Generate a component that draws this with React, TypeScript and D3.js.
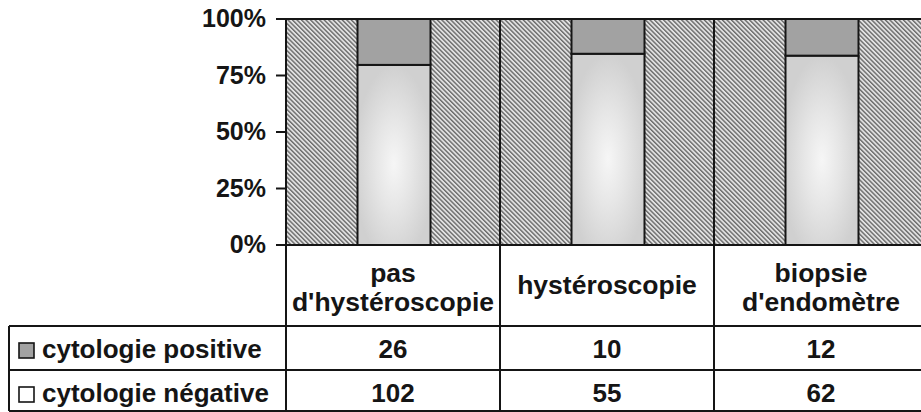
import React, { useEffect, useRef } from 'react';
import * as d3 from 'd3';

const categories = ['pas d\'hystéroscopie', 'hystéroscopie', 'biopsie d\'endomètre'];
const headerLines = [['pas', 'd\'hystéroscopie'], ['hystéroscopie'], ['biopsie', 'd\'endomètre']];
const positive = [26, 10, 12];
const negative = [102, 55, 62];
const seriesNames = ['cytologie positive', 'cytologie négative'];
const yTicks = [0, 0.25, 0.5, 0.75, 1];

const width = 921;
const height = 412;

export default function App() {
  const svgRef = useRef<SVGSVGElement>(null);

  useEffect(() => {
    if (!svgRef.current) return;
    const root = d3.select(svgRef.current);
    root.selectAll('*').remove();

    const left = 286;
    const top = 19;
    const bottom = 245;
    const bandW = 214;
    const tableLeft = 9;
    const rowY = [bottom, 326, 370, 411];
    const ink = '#151515';
    const font = '"Liberation Sans", Arial, sans-serif';

    // Defs: hatch pattern + gradients
    const defs = root.append('defs');
    const hatch = defs.append('pattern')
      .attr('id', 'hatch')
      .attr('patternUnits', 'userSpaceOnUse')
      .attr('width', 3.2)
      .attr('height', 10)
      .attr('patternTransform', 'rotate(-45)');
    hatch.append('rect').attr('width', 3.2).attr('height', 10).attr('fill', '#e2e2e2');
    hatch.append('rect').attr('width', 1.4).attr('height', 10).attr('fill', '#6a6a6a');

    const glow = defs.append('radialGradient')
      .attr('id', 'glow')
      .attr('cx', 0.5).attr('cy', 0.55).attr('r', 0.55);
    glow.append('stop').attr('offset', '0%').attr('stop-color', '#f6f6f6');
    glow.append('stop').attr('offset', '45%').attr('stop-color', '#e6e6e6');
    glow.append('stop').attr('offset', '100%').attr('stop-color', '#d0d0d0');

    const x = d3.scaleBand<string>()
      .domain(categories)
      .range([left, left + bandW * categories.length])
      .paddingInner(0);

    const y = d3.scaleLinear().domain([0, 1]).range([bottom, top]);

    const table = categories.map((c, i) => ({ cat: c, pos: positive[i], neg: negative[i] }));
    const stacked = d3.stack<any>()
      .keys(['neg', 'pos'])
      .offset(d3.stackOffsetExpand)(table);

    // Plot background (hatched)
    root.append('rect')
      .attr('x', left)
      .attr('y', top)
      .attr('width', width - left + 20)
      .attr('height', bottom - top)
      .attr('fill', 'url(#hatch)');

    // Bars
    const barW = 73;
    const fills: Record<string, string> = { neg: 'url(#glow)', pos: '#a2a2a2' };
    stacked.forEach(layer => {
      root.append('g')
        .selectAll('rect')
        .data(layer)
        .enter()
        .append('rect')
        .attr('x', (d: any) => (x(d.data.cat) as number) + x.bandwidth() / 2 - barW / 2 + 1)
        .attr('y', d => y(d[1]))
        .attr('width', barW)
        .attr('height', d => y(d[0]) - y(d[1]))
        .attr('fill', fills[layer.key])
        .attr('stroke', ink)
        .attr('stroke-width', 2);
    });

    // Plot frame: top line, dividers
    root.append('line')
      .attr('x1', left).attr('x2', width)
      .attr('y1', top).attr('y2', top)
      .attr('stroke', ink).attr('stroke-width', 2);
    categories.forEach(c => {
      const xx = x(c) as number;
      root.append('line')
        .attr('x1', xx).attr('x2', xx)
        .attr('y1', top).attr('y2', rowY[3])
        .attr('stroke', ink).attr('stroke-width', 2);
    });

    // Y axis ticks + labels
    const yAxis = root.append('g');
    yTicks.forEach(t => {
      yAxis.append('line')
        .attr('x1', left - 10).attr('x2', left)
        .attr('y1', y(t)).attr('y2', y(t))
        .attr('stroke', ink).attr('stroke-width', 2);
      yAxis.append('text')
        .attr('x', 266)
        .attr('y', y(t) + 8)
        .attr('text-anchor', 'end')
        .attr('font-family', font)
        .attr('font-weight', 'bold')
        .attr('font-size', 25)
        .attr('fill', ink)
        .text(d3.format('.0%')(t));
    });

    // Data table lines
    root.append('line')
      .attr('x1', left).attr('x2', width)
      .attr('y1', rowY[0]).attr('y2', rowY[0])
      .attr('stroke', ink).attr('stroke-width', 2);
    [rowY[1], rowY[2], rowY[3]].forEach(yy => {
      root.append('line')
        .attr('x1', tableLeft).attr('x2', width)
        .attr('y1', yy).attr('y2', yy)
        .attr('stroke', ink).attr('stroke-width', 2);
    });
    root.append('line')
      .attr('x1', tableLeft).attr('x2', tableLeft)
      .attr('y1', rowY[1]).attr('y2', rowY[3])
      .attr('stroke', ink).attr('stroke-width', 2);

    // Header cells
    headerLines.forEach((lines, i) => {
      const cx = (x(categories[i]) as number) + x.bandwidth() / 2;
      const base = lines.length === 2 ? [282, 311] : [294];
      lines.forEach((ln, j) => {
        root.append('text')
          .attr('x', cx)
          .attr('y', base[j])
          .attr('text-anchor', 'middle')
          .attr('font-family', font)
          .attr('font-weight', 'bold')
          .attr('font-size', 26.5)
          .attr('fill', ink)
          .text(ln);
      });
    });

    // Value rows
    const rows = [positive, negative];
    const rowBase = [358, 402];
    const swatch = ['#a2a2a2', '#ffffff'];
    rows.forEach((vals, r) => {
      root.append('rect')
        .attr('x', 19).attr('y', rowBase[r] - 15)
        .attr('width', 15).attr('height', 15)
        .attr('fill', swatch[r])
        .attr('stroke', ink).attr('stroke-width', 1.6);
      root.append('text')
        .attr('x', 42)
        .attr('y', rowBase[r])
        .attr('font-family', font)
        .attr('font-weight', 'bold')
        .attr('font-size', 26)
        .attr('fill', ink)
        .text(seriesNames[r]);
      vals.forEach((v, i) => {
        root.append('text')
          .attr('x', (x(categories[i]) as number) + x.bandwidth() / 2)
          .attr('y', rowBase[r])
          .attr('text-anchor', 'middle')
          .attr('font-family', font)
          .attr('font-weight', 'bold')
          .attr('font-size', 26)
          .attr('fill', ink)
          .text(String(v));
      });
    });
  }, []);

  return (
    <svg
      ref={svgRef}
      width={width}
      height={height}
      style={{ position: 'absolute', left: 0, top: 0, background: '#fff' }}
    />
  );
}
